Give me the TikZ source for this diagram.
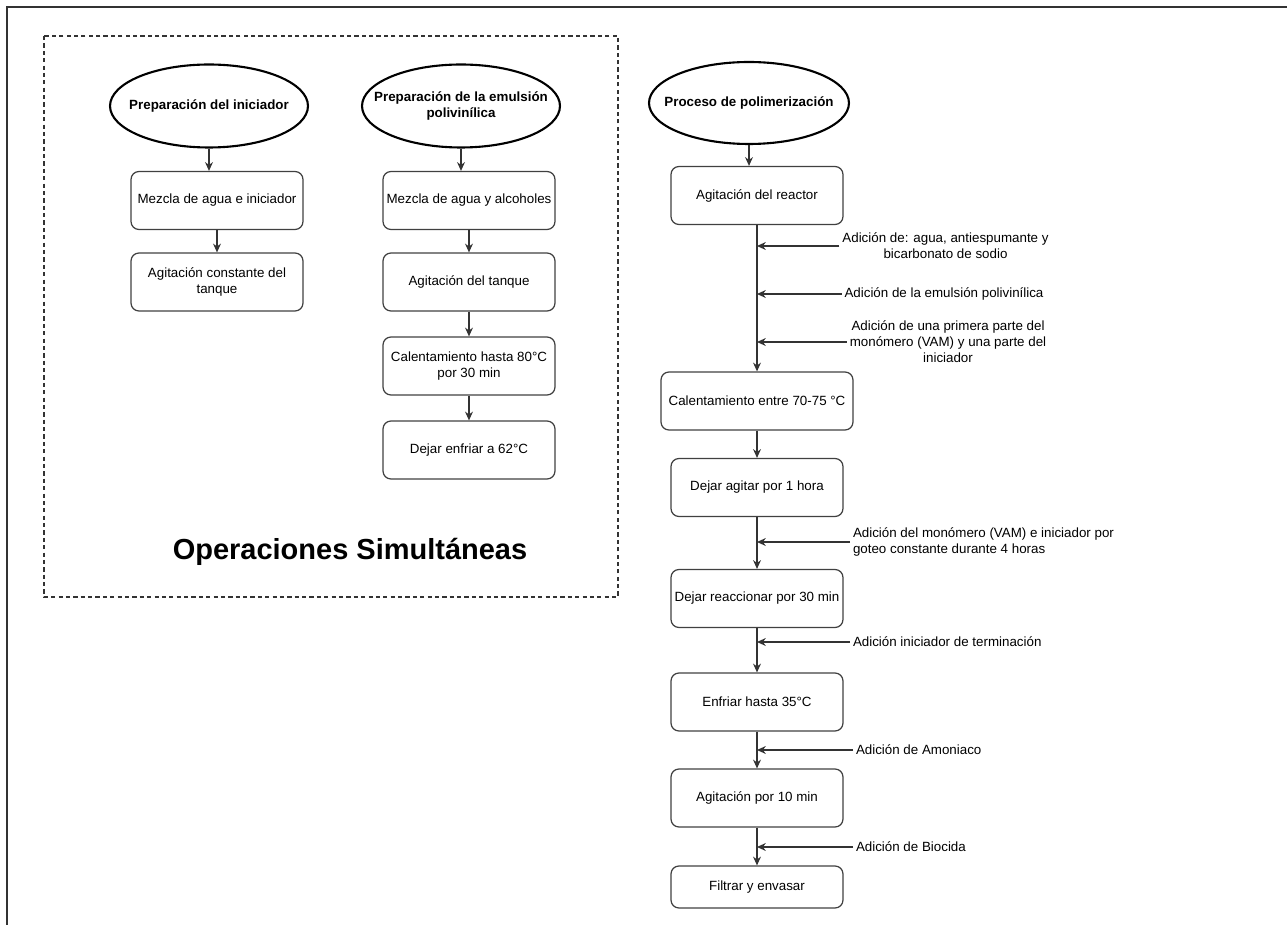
\documentclass[tikz,border=0pt]{standalone}
\usepackage{fontspec}
\setmainfont{Liberation Sans}
\usetikzlibrary{shapes.geometric}
\usetikzlibrary{arrows.meta}

\tikzset{
    paso/.style = {draw = black!75, rounded corners = 4.5pt, line width = 0.7pt,
        minimum width = 3.44cm, minimum height = 1.16cm, align = center,
        inner sep = 1pt, font = \fontsize{7.6}{9.4}\selectfont},
    inicio/.style = {draw = black, ellipse, line width = 1.2pt,
        minimum width = 3.96cm, minimum height = 1.66cm, align = center,
        inner xsep = -30pt, inner ysep = 0pt, font = \bfseries\fontsize{7.6}{9.4}\selectfont},
    nota/.style = {inner sep = 1.5pt, font = \fontsize{7.6}{9.1}\selectfont},
    flecha/.style = {draw = black!80, line width = 0.7pt, -{Stealth[length = 5pt, width = 4.5pt]}}
}

\begin{document}
\begin{tikzpicture}[x = 0.02cm, y = -0.02cm]
    \useasboundingbox (0,0) rectangle (1287,925);

    % marco
    \draw[black!80, line width = 1.1pt] (7,925) -- (7,7) -- (1287,7);
    \draw[black!80, line width = 0.7pt, dash pattern = on 2.4pt off 1.8pt] (44,36) rectangle (618,597);

    % preparacion del iniciador
    \node[inicio] (ini) at (209,106) {Preparación del iniciador};
    \node[paso] (ini1) at (217,200.5) {Mezcla de agua e iniciador};
    \node[paso] (ini2) at (217,282) {Agitación constante del\\tanque};

    % preparacion de la emulsion
    \node[inicio] (emu) at (461,106) {Preparación de la emulsión\\polivinílica};
    \node[paso] (emu1) at (469,200.5) {Mezcla de agua y alcoholes};
    \node[paso] (emu2) at (469,282) {Agitación del tanque};
    \node[paso] (emu3) at (469,366) {Calentamiento hasta 80°C\\por 30 min};
    \node[paso] (emu4) at (469,450) {Dejar enfriar a 62°C};

    \node[font = \bfseries\fontsize{16.5}{20}\selectfont] (ops) at (350,552) {Operaciones Simultáneas};

    \draw[flecha] (ini.south) -- (ini.south |- ini1.north);
    \draw[flecha] (emu.south) -- (emu.south |- emu1.north);
    \foreach \a/\b in {ini1/ini2, emu1/emu2, emu2/emu3, emu3/emu4}{
        \draw[flecha] (\a) -- (\b);
    }

    % proceso de polimerizacion
    \node[inicio, minimum width = 4cm, minimum height = 1.64cm] (pol) at (749,103) {Proceso de polimerización};
    \node[paso] (r1) at (757,195.5) {Agitación del reactor};
    \node[paso, minimum width = 3.84cm] (r2) at (757,401) {Calentamiento entre 70-75 °C};
    \node[paso] (r3) at (757,487.5) {Dejar agitar por 1 hora};
    \node[paso] (r4) at (757,598.5) {Dejar reaccionar por 30 min};
    \node[paso] (r5) at (757,702) {Enfriar hasta 35°C};
    \node[paso] (r6) at (757,798) {Agitación por 10 min};
    \node[paso, minimum height = 0.84cm] (r7) at (757,887) {Filtrar y envasar};

    \draw[flecha] (pol.south) -- (pol.south |- r1.north);
    \foreach \a/\b in {r1/r2, r2/r3, r3/r4, r4/r5, r5/r6, r6/r7}{
        \draw[flecha] (\a) -- (\b);
    }

    % adiciones
    \node[nota, align = center] (a1) at (945.5,246) {Adición de: agua, antiespumante y\\bicarbonato de sodio};
    \node[nota, align = center] (a2) at (944,294) {Adición de la emulsión polivinílica};
    \node[nota, align = center] (a3) at (948,342) {Adición de una primera parte del\\monómero (VAM) y una parte del\\iniciador};
    \node[nota, align = left, anchor = west] (a4) at (850,542) {Adición del monómero (VAM) e iniciador por\\goteo constante durante 4 horas};
    \node[nota, anchor = west] (a5) at (850,642) {Adición iniciador de terminación};
    \node[nota, anchor = west] (a6) at (853,750) {Adición de Amoniaco};
    \node[nota, anchor = west] (a7) at (853,847) {Adición de Biocida};

    \foreach \n in {a1,a2,a3,a4,a5,a6,a7}{
        \draw[flecha] (\n.west) -- (\n.west -| r1.south);
    }
\end{tikzpicture}
\end{document}
